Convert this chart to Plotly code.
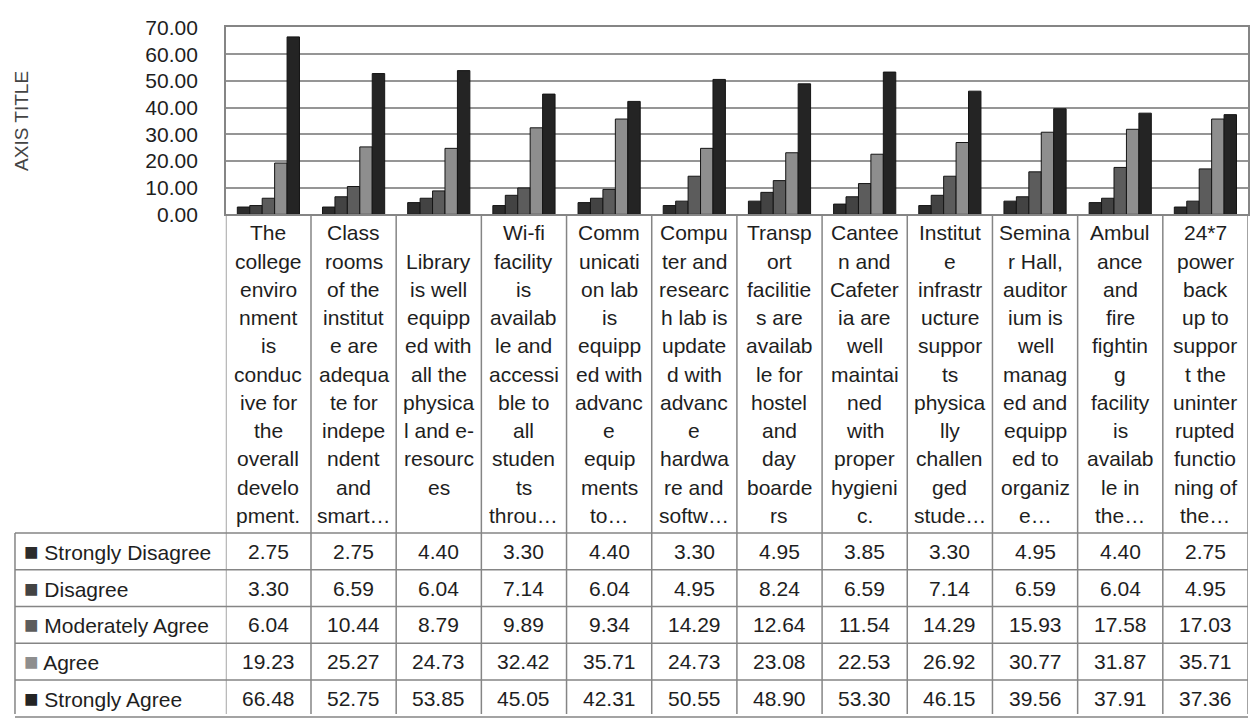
import plotly.graph_objects as go

W, H = 1250, 725

categories = [
    "The<br>college<br>enviro<br>nment<br>is<br>conduc<br>ive for<br>the<br>overall<br>develo<br>pment.",
    "Class<br>rooms<br>of the<br>institut<br>e are<br>adequa<br>te for<br>indepe<br>ndent<br>and<br>smart…",
    "Library<br>is well<br>equipp<br>ed with<br>all the<br>physica<br>l and e-<br>resourc<br>es",
    "Wi-fi<br>facility<br>is<br>availab<br>le and<br>accessi<br>ble to<br>all<br>studen<br>ts<br>throu…",
    "Comm<br>unicati<br>on lab<br>is<br>equipp<br>ed with<br>advanc<br>e<br>equip<br>ments<br>to…",
    "Compu<br>ter and<br>researc<br>h lab is<br>update<br>d with<br>advanc<br>e<br>hardwa<br>re and<br>softw…",
    "Transp<br>ort<br>facilitie<br>s are<br>availab<br>le for<br>hostel<br>and<br>day<br>boarde<br>rs",
    "Cantee<br>n and<br>Cafeter<br>ia are<br>well<br>maintai<br>ned<br>with<br>proper<br>hygieni<br>c.",
    "Institut<br>e<br>infrastr<br>ucture<br>suppor<br>ts<br>physica<br>lly<br>challen<br>ged<br>stude…",
    "Semina<br>r Hall,<br>auditor<br>ium is<br>well<br>manag<br>ed and<br>equipp<br>ed to<br>organiz<br>e…",
    "Ambul<br>ance<br>and<br>fire<br>fightin<br>g<br>facility<br>is<br>availab<br>le in<br>the…",
    "24*7<br>power<br>back<br>up to<br>suppor<br>t the<br>uninter<br>rupted<br>functio<br>ning of<br>the…",
]

series_names = ["Strongly Disagree", "Disagree", "Moderately Agree", "Agree", "Strongly Agree"]

strongly_disagree = [2.75, 2.75, 4.40, 3.30, 4.40, 3.30, 4.95, 3.85, 3.30, 4.95, 4.40, 2.75]
disagree = [3.30, 6.59, 6.04, 7.14, 6.04, 4.95, 8.24, 6.59, 7.14, 6.59, 6.04, 4.95]
moderately_agree = [6.04, 10.44, 8.79, 9.89, 9.34, 14.29, 12.64, 11.54, 14.29, 15.93, 17.58, 17.03]
agree = [19.23, 25.27, 24.73, 32.42, 35.71, 24.73, 23.08, 22.53, 26.92, 30.77, 31.87, 35.71]
strongly_agree = [66.48, 52.75, 53.85, 45.05, 42.31, 50.55, 48.90, 53.30, 46.15, 39.56, 37.91, 37.36]

series_values = [strongly_disagree, disagree, moderately_agree, agree, strongly_agree]
series_colors = ["#2c2c2c", "#434343", "#5c5c5c", "#8e8e8e", "#242424"]

y_ticks = [0, 10, 20, 30, 40, 50, 60, 70]

# layout geometry (pixels)
PL, PR = 226, 1249
PT, PB = 16, 209
TABLE_LEFT = 15
TABLE_TOP = 538
ROW_H = 38
LINE_H = 29.2
LABEL_CENTER = 374

def py(y):
    return 1 - y / H

def px(x):
    return x / W

FONT = "Liberation Sans, Arial, sans-serif"
TXT = "#1e1e1e"
LINE = "#858585"

fig = go.Figure()
n = len(categories)
xs = list(range(n))
for name, vals, col in zip(series_names, series_values, series_colors):
    fig.add_trace(go.Bar(
        x=xs, y=vals, name=name,
        marker=dict(color=col, line=dict(color="#151515", width=1)),
        showlegend=False,
    ))

annotations = []
shapes = []

# category labels (one annotation per wrapped line)
for i, lab in enumerate(categories):
    lines = lab.split("<br>")
    k = len(lines)
    for j, ln in enumerate(lines):
        yy = LABEL_CENTER + (j - (k - 1) / 2) * LINE_H
        annotations.append(dict(
            x=i, xref="x", y=py(yy), yref="paper", text=ln, showarrow=False,
            xanchor="center", yanchor="middle",
            font=dict(family=FONT, size=21, color=TXT),
        ))

# data table rows
for r, (name, vals, col) in enumerate(zip(series_names, series_values, series_colors)):
    yc = TABLE_TOP + ROW_H * (r + 0.5)
    annotations.append(dict(
        x=px(TABLE_LEFT + 7), xref="paper", y=py(yc), yref="paper",
        text=f"<span style='color:{col};font-size:24px'>■</span> {name}",
        showarrow=False, xanchor="left", yanchor="middle",
        font=dict(family=FONT, size=21, color=TXT),
    ))
    for i, v in enumerate(vals):
        annotations.append(dict(
            x=i, xref="x", y=py(yc), yref="paper", text=f"{v:.2f}",
            showarrow=False, xanchor="center", yanchor="middle",
            font=dict(family=FONT, size=21, color=TXT),
        ))

# table lines
for r in range(len(series_names) + 1):
    yl = TABLE_TOP + ROW_H * r
    shapes.append(dict(type="line", xref="paper", yref="paper",
                       x0=px(TABLE_LEFT), x1=px(PR), y0=py(yl), y1=py(yl),
                       line=dict(color=LINE, width=1.5)))
shapes.append(dict(type="line", xref="paper", yref="paper",
                   x0=px(TABLE_LEFT), x1=px(TABLE_LEFT), y0=py(TABLE_TOP), y1=0,
                   line=dict(color=LINE, width=1.5)))
for i in range(n + 1):
    shapes.append(dict(type="line", xref="x", yref="paper",
                       x0=i - 0.5, x1=i - 0.5, y0=py(PB), y1=0,
                       line=dict(color=LINE, width=1.5)))

annotations.append(dict(
    x=px(22), xref="paper", y=py((PT + PB) / 2), yref="paper", text="AXIS TITLE",
    textangle=-90, showarrow=False, xanchor="center", yanchor="middle",
    font=dict(family=FONT, size=19, color="#444444"),
))

fig.update_layout(
    width=W, height=H,
    margin=dict(l=0, r=0, t=0, b=0),
    paper_bgcolor="white", plot_bgcolor="white",
    barmode="group", bargap=0.27, bargroupgap=0,
    annotations=annotations, shapes=shapes,
    xaxis=dict(domain=[px(PL), px(PR)], range=[-0.5, n - 0.5],
               showticklabels=False, showgrid=False, zeroline=False,
               showline=True, mirror=True, linecolor=LINE, linewidth=1.5,
               fixedrange=True),
    yaxis=dict(domain=[py(PB), py(PT)], range=[0, 70], tickvals=y_ticks,
               ticktext=[f"{t:.2f}" for t in y_ticks],
               showgrid=True, gridcolor="#959595", gridwidth=1.5,
               zeroline=False, showline=True, mirror=True,
               linecolor=LINE, linewidth=1.5, ticks="", ticklabelstandoff=22,
               tickfont=dict(family=FONT, size=21, color=TXT), fixedrange=True),
    font=dict(family=FONT),
)

fig.write_html(
    "out.html",
    config={"displayModeBar": False},
    post_script="document.body.style.margin='0';document.body.style.overflow='hidden';",
)
